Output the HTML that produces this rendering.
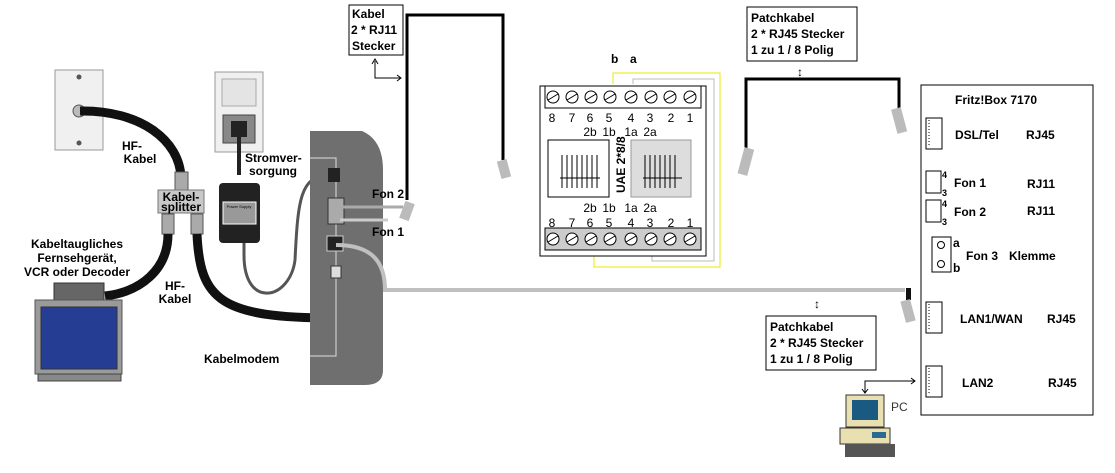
<!DOCTYPE html>
<html><head><meta charset="utf-8"><style>
html,body{margin:0;padding:0;background:#fff;}
svg{display:block;font-family:"Liberation Sans",sans-serif;}
.b{font-weight:bold;font-size:12px;fill:#000;}
.s{font-size:12px;fill:#000;}
</style></head><body>
<svg width="1115" height="473" viewBox="0 0 1115 473" xmlns="http://www.w3.org/2000/svg">
<rect x="55" y="70" width="48" height="80" fill="#f0f0f0" stroke="#999"/>
<circle cx="79" cy="77" r="2.5" fill="#555"/><circle cx="79" cy="143" r="2.5" fill="#555"/>
<circle cx="79" cy="111" r="6" fill="#bbb" stroke="#555"/>
<path d="M80 111 C140 110 180 140 181 178" stroke="#111" stroke-width="9" fill="none"/>
<rect x="175" y="172" width="13" height="18" fill="#aaa" stroke="#555"/>
<rect x="158" y="190" width="46" height="23" fill="#c8c8c8" stroke="#777"/>
<text x="181" y="201" text-anchor="middle" class="b" font-size="10">Kabel-</text>
<text x="181" y="211" text-anchor="middle" class="b" font-size="10">splitter</text>
<rect x="162" y="214" width="12" height="20" fill="#aaa" stroke="#555"/>
<rect x="191" y="214" width="12" height="20" fill="#aaa" stroke="#555"/>
<path d="M168 234 C168 270 140 292 105 296" stroke="#111" stroke-width="9" fill="none"/>
<path d="M197 234 C200 300 220 318 335 318" stroke="#111" stroke-width="9" fill="none"/>
<circle cx="337" cy="318" r="4" fill="#aaa" stroke="#555"/>
<text x="132" y="150" text-anchor="middle" class="s" font-weight="bold">HF-</text>
<text x="140" y="163" text-anchor="middle" class="s" font-weight="bold">Kabel</text>
<text x="175" y="290" text-anchor="middle" class="s" font-weight="bold">HF-</text>
<text x="175" y="303" text-anchor="middle" class="s" font-weight="bold">Kabel</text>
<text x="77" y="248" text-anchor="middle" class="s" font-weight="bold">Kabeltaugliches</text>
<text x="77" y="262" text-anchor="middle" class="s" font-weight="bold">Fernsehgerät,</text>
<text x="77" y="276" text-anchor="middle" class="s" font-weight="bold">VCR oder Decoder</text>
<rect x="54" y="283" width="50" height="17" fill="#666" stroke="#333"/>
<rect x="35" y="300" width="87" height="74" fill="#9a9a9a" stroke="#555"/>
<rect x="41" y="307" width="76" height="62" fill="#253d93" stroke="#333"/>
<rect x="38" y="374" width="83" height="7" fill="#888" stroke="#444"/>
<rect x="215" y="72" width="48" height="80" fill="#f0f0f0" stroke="#999"/>
<rect x="222" y="79" width="34" height="27" fill="#e4e4e4" stroke="#aaa"/>
<rect x="223" y="115" width="32" height="28" fill="#888" stroke="#444"/>
<rect x="231" y="121" width="16" height="16" fill="#222"/>
<line x1="239" y1="130" x2="239" y2="175" stroke="#222" stroke-width="4"/>
<rect x="219" y="183" width="41" height="60" rx="4" fill="#222"/>
<rect x="223" y="202" width="33" height="22" fill="#999" stroke="#fff"/>
<text x="239" y="208" text-anchor="middle" font-size="4" fill="#000">Power Supply</text>
<path d="M244 243 L244 255 C244 310 290 300 295 260 C298 200 300 175 330 175" stroke="#555" stroke-width="3" fill="none"/>
<text x="245" y="162" class="s" font-weight="bold">Stromver-</text>
<text x="249" y="175" class="s" font-weight="bold">sorgung</text>
<path d="M310 131 L362 131 Q383 140 383 170 L383 370 Q383 385 365 385 L310 385 Z" fill="#6f6f6f"/>
<path d="M310 158 L336 158 L336 356 L310 356" stroke="#ddd" stroke-width="1" fill="none"/>
<rect x="328" y="168" width="12" height="14" fill="#222"/>
<rect x="328" y="198" width="16" height="26" fill="#aaa" stroke="#333"/>
<rect x="327" y="236" width="16" height="15" fill="#222" stroke="#ccc"/>
<rect x="331" y="266" width="10" height="12" fill="#ddd" stroke="#333"/>
<line x1="340" y1="207" x2="403" y2="207" stroke="#aaa" stroke-width="3"/>
<line x1="340" y1="220" x2="388" y2="220" stroke="#ccc" stroke-width="3"/>
<text x="372" y="198" class="b">Fon 2</text>
<text x="372" y="236" class="b">Fon 1</text>
<text x="204" y="363" class="b">Kabelmodem</text>
<path d="M336 245 C370 245 385 260 385 290 L905 290" stroke="#c0c0c0" stroke-width="4" fill="none"/>
<rect x="349" y="5" width="54" height="50" fill="#fff" stroke="#000"/>
<text x="352" y="18" class="b">Kabel</text>
<text x="351" y="34" class="b">2 * RJ11</text>
<text x="352" y="50" class="b">Stecker</text>
<path d="M375 61 L375 78 L400 78" stroke="#000" fill="none"/>
<path d="M372 64 L375 59 L378 64 M397 75 L401 78 L397 81" stroke="#000" fill="none"/>
<path d="M407 200 L407 15 L503 15 L503 160" stroke="#000" stroke-width="3" fill="none"/>
<rect x="402" y="202" width="10" height="18" fill="#bbb" transform="rotate(20 407 211)"/>
<rect x="499" y="160" width="10" height="18" fill="#bbb" transform="rotate(-15 504 169)"/>
<text x="611" y="63" class="b">b</text><text x="630" y="63" class="b">a</text>
<path d="M613 84 L613 73 L720 73 L720 267 L594 267 L594 255" stroke="#e8e800" fill="none"/>
<path d="M633 84 L633 79 L714 79 L714 261 L652 261 L652 255" stroke="#bbb" fill="none"/>
<rect x="540" y="86" width="166" height="170" fill="#fff" stroke="#000"/>
<rect x="545" y="86" width="156" height="22" fill="#fff" stroke="#000"/>
<rect x="545" y="228" width="156" height="22" fill="#ccc" stroke="#000"/>
<g stroke="#000" fill="#fff">
<circle cx="553" cy="97" r="6"/><circle cx="572" cy="97" r="6"/><circle cx="591" cy="97" r="6"/><circle cx="610" cy="97" r="6"/><circle cx="631" cy="97" r="6"/><circle cx="651" cy="97" r="6"/><circle cx="670" cy="97" r="6"/><circle cx="690" cy="97" r="6"/>
<circle cx="553" cy="239" r="6"/><circle cx="572" cy="239" r="6"/><circle cx="591" cy="239" r="6"/><circle cx="610" cy="239" r="6"/><circle cx="631" cy="239" r="6"/><circle cx="651" cy="239" r="6"/><circle cx="670" cy="239" r="6"/><circle cx="690" cy="239" r="6"/>
</g>
<g stroke="#000">
<path d="M548 100 L558 94 M567 100 L577 94 M586 100 L596 94 M605 100 L615 94 M626 100 L636 94 M646 100 L656 94 M665 100 L675 94 M685 100 L695 94"/>
<path d="M548 242 L558 236 M567 242 L577 236 M586 242 L596 236 M605 242 L615 236 M626 242 L636 236 M646 242 L656 236 M665 242 L675 236 M685 242 L695 236"/>
</g>
<g font-size="12" fill="#000" text-anchor="middle">
<text x="552" y="122">8</text><text x="572" y="122">7</text><text x="590" y="122">6</text><text x="609" y="122">5</text><text x="631" y="122">4</text><text x="650" y="122">3</text><text x="671" y="122">2</text><text x="690" y="122">1</text>
<text x="590" y="136">2b</text><text x="609" y="136">1b</text><text x="631" y="136">1a</text><text x="650" y="136">2a</text>
<text x="590" y="212">2b</text><text x="609" y="212">1b</text><text x="631" y="212">1a</text><text x="650" y="212">2a</text>
<text x="552" y="227">8</text><text x="572" y="227">7</text><text x="590" y="227">6</text><text x="609" y="227">5</text><text x="631" y="227">4</text><text x="650" y="227">3</text><text x="671" y="227">2</text><text x="690" y="227">1</text>
</g>
<rect x="548" y="140" width="61" height="57" fill="#fff" stroke="#000"/>
<rect x="631" y="140" width="60" height="57" fill="#ddd" stroke="#999"/>
<g stroke="#000"><line x1="562" y1="155" x2="562" y2="188"/><line x1="567" y1="155" x2="567" y2="188"/><line x1="572" y1="155" x2="572" y2="188"/><line x1="577" y1="155" x2="577" y2="188"/><line x1="582" y1="155" x2="582" y2="188"/><line x1="587" y1="155" x2="587" y2="188"/><line x1="592" y1="155" x2="592" y2="188"/><line x1="597" y1="155" x2="597" y2="188"/><line x1="560" y1="178" x2="600" y2="178"/>
<line x1="645" y1="155" x2="645" y2="188"/><line x1="650" y1="155" x2="650" y2="188"/><line x1="655" y1="155" x2="655" y2="188"/><line x1="660" y1="155" x2="660" y2="188"/><line x1="665" y1="155" x2="665" y2="188"/><line x1="670" y1="155" x2="670" y2="188"/><line x1="675" y1="155" x2="675" y2="188"/><line x1="643" y1="178" x2="682" y2="178"/></g>
<text transform="translate(625 193) rotate(-90)" class="b" font-size="11">UAE 2*8/8</text>
<rect x="747" y="7" width="110" height="54" fill="#fff" stroke="#000"/>
<text x="751" y="22" class="b">Patchkabel</text>
<text x="751" y="38" class="b">2 * RJ45 Stecker</text>
<text x="751" y="54" class="b">1 zu 1 / 8 Polig</text>
<text x="800" y="76" text-anchor="middle" font-size="12">↕</text>
<path d="M746 148 L746 79 L899 79 L899 108" stroke="#000" stroke-width="3" fill="none"/>
<rect x="741" y="148" width="10" height="27" fill="#bbb" transform="rotate(15 746 161)"/>
<rect x="894" y="108" width="10" height="25" fill="#bbb" transform="rotate(-15 899 120)"/>
<rect x="906" y="288" width="5" height="12" fill="#111"/>
<rect x="903" y="300" width="10" height="22" fill="#bbb" transform="rotate(-15 908 311)"/>
<text x="817" y="308" text-anchor="middle" font-size="12">↕</text>
<rect x="766" y="316" width="110" height="54" fill="#fff" stroke="#000"/>
<text x="770" y="331" class="b">Patchkabel</text>
<text x="770" y="347" class="b">2 * RJ45 Stecker</text>
<text x="770" y="363" class="b">1 zu 1 / 8 Polig</text>
<path d="M865 393 L865 381 L915 381" stroke="#000" fill="none"/>
<path d="M862 389 L865 393 L868 389 M911 378 L915 381 L911 384" stroke="#000" fill="none"/>
<rect x="846" y="395" width="38" height="32" fill="#e8e0b0" stroke="#333"/>
<rect x="852" y="400" width="26" height="20" fill="#1a5a80"/>
<rect x="840" y="428" width="50" height="16" fill="#e8e0b0" stroke="#333"/>
<rect x="872" y="432" width="14" height="6" fill="#2a6a90"/>
<rect x="845" y="444" width="50" height="13" fill="#555"/>
<text x="891" y="411" font-size="12" fill="#333">PC</text>
<rect x="921" y="85" width="172" height="330" fill="#fff" stroke="#000"/>
<text x="955" y="104" class="b">Fritz!Box 7170</text>
<g fill="#fff" stroke="#000">
<rect x="926" y="118" width="16" height="31"/><rect x="926" y="171" width="15" height="22"/><rect x="926" y="200" width="15" height="22"/>
<rect x="932" y="237" width="19" height="35"/><rect x="926" y="302" width="16" height="31"/><rect x="926" y="366" width="16" height="31"/>
<circle cx="941" cy="245" r="3.5"/><circle cx="941" cy="264" r="3.5"/>
</g>
<g stroke="#000" stroke-dasharray="1 2"><line x1="929" y1="120" x2="929" y2="147"/><line x1="929" y1="304" x2="929" y2="331"/><line x1="929" y1="368" x2="929" y2="395"/></g>
<text x="955" y="139" class="b">DSL/Tel</text><text x="1026" y="139" class="b">RJ45</text>
<text x="954" y="187" class="b">Fon 1</text><text x="1027" y="188" class="b">RJ11</text>
<text x="954" y="216" class="b">Fon 2</text><text x="1027" y="215" class="b">RJ11</text>
<text x="942" y="178" font-size="9" font-weight="bold">4</text><text x="942" y="196" font-size="9" font-weight="bold">3</text>
<text x="942" y="207" font-size="9" font-weight="bold">4</text><text x="942" y="225" font-size="9" font-weight="bold">3</text>
<text x="953" y="247" class="b" font-size="11">a</text><text x="953" y="272" class="b" font-size="11">b</text>
<text x="966" y="260" class="b">Fon 3</text><text x="1009" y="260" class="b">Klemme</text>
<text x="960" y="323" class="b">LAN1/WAN</text><text x="1047" y="323" class="b">RJ45</text>
<text x="962" y="387" class="b">LAN2</text><text x="1048" y="387" class="b">RJ45</text>
</svg>
</body></html>
